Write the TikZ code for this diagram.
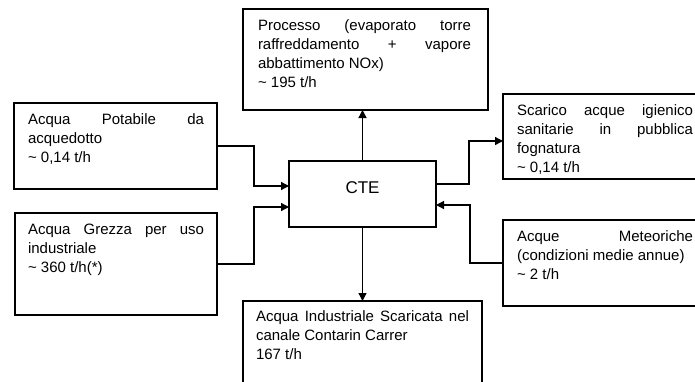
\documentclass[tikz,border=0pt]{standalone}
\usepackage{fontspec}
\setmainfont{Liberation Sans}
\usetikzlibrary{arrows.meta}
\newcommand\jl[2]{\makebox[#1][s]{#2}}
\tikzset{
  box/.style={draw=black, line width=1.7pt, inner sep=0pt, outer sep=0pt, anchor=north west, fill=white},
  txt/.style={anchor=north west, inner sep=0pt, outer sep=0pt, align=left,
    font=\fontsize{15}{19}\selectfont, text=black},
  conn/.style={draw=black, line width=1.3pt, -{Triangle[length=8pt,width=8pt]}}
}
\begin{document}
\begin{tikzpicture}[x=1pt,y=-1pt]
\useasboundingbox (0,0) rectangle (695,381);
\clip (0,0) rectangle (695,381);
\fill[white] (0,0) rectangle (695,381);
% boxes
\node[box, minimum width=245pt, minimum height=101pt] (proc) at (243,9) {};
\node[box, minimum width=203pt, minimum height=86pt] (pot) at (14,103) {};
\node[box, minimum width=202pt, minimum height=102pt] (grez) at (15,213) {};
\node[box, minimum width=147pt, minimum height=66pt] (cte) at (289,161) {};
\node[box, minimum width=239pt, minimum height=110pt] (bot) at (243,301) {};
\node[box, minimum width=220pt, minimum height=85pt] (scar) at (503,94) {};
\node[box, minimum width=220pt, minimum height=86pt] (met) at (503,220) {};
% texts
\node[txt] (procT) at (258,20) {\jl{213pt}{Processo (evaporato torre}\\\jl{213pt}{raffreddamento + vapore}\\abbattimento NOx)\\\char`\~{} 195 t/h};
\node[txt] (potT) at (28,114) {\jl{176pt}{Acqua Potabile da}\\acquedotto\\\char`\~{} 0,14 t/h};
\node[txt] (grezT) at (28,224) {\jl{176pt}{Acqua Grezza per uso}\\industriale\\\char`\~{} 360 t/h(*)};
\node[font=\fontsize{17}{20}\selectfont, inner sep=0pt] (cteT) at ([yshift=6.5pt]cte.center) {CTE};
\node[txt] (botT) at (256,311) {\jl{213pt}{Acqua Industriale Scaricata nel}\\canale Contarin Carrer\\167 t/h};
\node[txt] (scarT) at (517,105) {\jl{176pt}{Scarico acque igienico}\\\jl{176pt}{sanitarie in pubblica}\\fognatura\\\char`\~{} 0,14 t/h};
\node[txt] (metT) at (517,231) {\jl{176pt}{Acque Meteoriche}\\(condizioni medie annue)\\\char`\~{} 2 t/h};
% connectors
\draw[conn] (pot.east) -- ++(37,0) |- ([yshift=8pt]cte.west);
\draw[conn] (grez.east) -- ++(37,0) |- ([yshift=-13pt]cte.west);
\draw[conn] (cte.north) -- (cte.north |- proc.south);
\draw[conn] (cte.south) -- (cte.south |- bot.north);
\draw[conn] ([yshift=10pt]cte.east) -- ++(33,0) |- ([yshift=-4.5pt]scar.west);
\draw[conn] (met.west) -- ++(-33,0) |- ([yshift=-11pt]cte.east);
\end{tikzpicture}
\end{document}
